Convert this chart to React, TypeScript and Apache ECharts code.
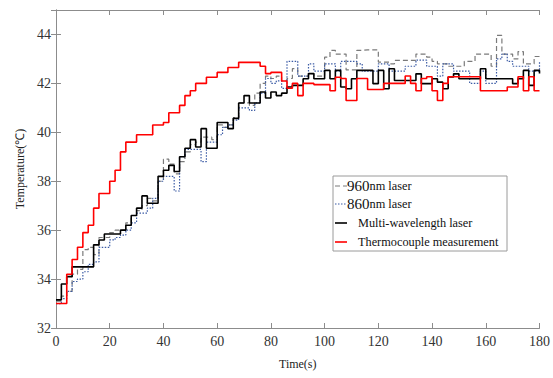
import React, { useEffect, useRef } from "react";
import * as echarts from "echarts";

const times = [
  0, 2, 4, 6, 8, 10, 12, 14, 16, 18,
  20, 22, 24, 26, 28, 30, 32, 34, 36, 38,
  40, 42, 44, 46, 48, 50, 52, 54, 56, 58,
  60, 62, 64, 66, 68, 70, 72, 74, 76, 78,
  80, 82, 84, 86, 88, 90, 92, 94, 96, 98,
  100, 102, 104, 106, 108, 110, 112, 114, 116, 118,
  120, 122, 124, 126, 128, 130, 132, 134, 136, 138,
  140, 142, 144, 146, 148, 150, 152, 154, 156, 158,
  160, 162, 164, 166, 168, 170, 172, 174, 176, 178,
  180,
];

const laser960 = [
  33.1, 33.3, 33.5, 34.2, 34.4, 35.2, 35.3, 35.0, 35.7, 35.7,
  35.9, 36.0, 36.0, 36.3, 36.6, 36.8, 37.0, 37.3, 37.2, 38.0,
  38.9, 38.7, 38.3, 38.8, 39.2, 39.5, 39.6, 39.8, 39.8, 39.7,
  40.3, 40.2, 40.3, 40.6, 41.2, 41.2, 41.1, 41.6, 42.0, 42.3,
  42.2, 42.3, 42.1, 42.2, 42.6, 42.3, 42.3, 42.4, 42.3, 42.3,
  43.07, 43.35, 43.2, 43.2, 42.55, 42.55, 43.35, 43.37, 43.37, 43.37,
  42.87, 42.87, 42.8, 42.94, 42.94, 42.94, 42.94, 43.2, 43.2, 43.07,
  42.9, 42.8, 42.8, 42.7, 42.7, 42.7, 42.9, 42.9, 43.2, 43.2,
  43.2, 42.7, 43.96, 43.2, 43.2, 43.0, 43.3, 42.8, 42.8, 43.1,
  43.1,
];

const laser860 = [
  33.0, 33.2, 33.5, 33.9, 34.0, 34.3, 34.6, 34.7, 35.3, 35.3,
  35.6, 35.7, 35.8, 36.0, 36.3, 36.7, 36.7, 36.9, 37.3, 38.0,
  38.2, 38.2, 37.6, 39.0, 39.3, 39.3, 39.3, 38.8, 39.6, 39.6,
  39.9, 40.2, 40.3, 40.5, 41.0, 41.0, 40.9, 41.2, 41.6, 42.2,
  42.0, 42.1, 41.8, 42.9, 42.9, 42.3, 42.3, 42.8, 42.5, 42.5,
  42.8, 42.8, 42.5, 42.9, 42.9, 42.9, 42.8, 42.5, 42.5, 42.5,
  42.8, 42.8, 42.5, 42.5, 42.5, 42.7, 42.7, 42.95, 42.95, 42.7,
  42.7, 42.3, 42.8, 42.8, 42.5, 42.5, 42.5, 42.0, 42.0, 42.5,
  42.0, 42.0, 43.0, 43.2, 42.9, 42.7, 42.7, 42.7, 42.5, 42.5,
  42.9,
];

const multiWave = [
  33.15, 33.8, 34.1, 34.5, 34.5, 34.5, 34.5, 35.4, 35.6, 35.84,
  35.84, 35.84, 36.0, 36.2, 36.6, 36.9, 37.4, 37.1, 37.1, 38.2,
  38.45, 38.65, 38.4, 39.0, 39.35, 39.7, 39.4, 40.15, 39.35, 39.35,
  40.4, 40.4, 40.15, 40.57, 41.2, 41.5, 41.2, 41.2, 41.65, 41.4,
  41.65, 41.5, 41.6, 41.85, 41.92, 41.92, 42.19, 42.4, 42.19, 42.19,
  42.53, 42.19, 42.53, 41.85, 41.78, 42.19, 42.53, 42.53, 42.53, 41.99,
  42.53, 41.78, 42.6, 42.12, 42.12, 42.12, 42.12, 42.39, 41.99, 41.99,
  42.19, 42.05, 41.78, 42.26, 42.39, 42.19, 42.19, 42.19, 42.19, 42.6,
  42.19, 42.19, 42.19, 42.19, 42.19, 41.99, 42.19, 42.53, 41.92, 42.53,
  42.4,
];

const thermo = [
  33.0, 33.0, 34.2, 34.8, 35.3, 35.9, 36.2, 36.9, 37.5, 37.5,
  38.0, 38.45, 39.2, 39.6, 39.6, 39.9, 39.9, 39.9, 40.3, 40.3,
  40.4, 40.8, 40.8, 41.1, 41.5, 41.7, 42.0, 42.0, 42.25, 42.25,
  42.45, 42.45, 42.65, 42.65, 42.86, 42.86, 42.86, 42.86, 42.7, 42.4,
  42.45, 42.45, 42.1, 41.8, 42.0, 41.5, 42.0, 42.0, 41.95, 41.95,
  41.95, 41.7, 42.25, 42.2, 41.3, 41.3, 42.2, 42.2, 41.75, 41.75,
  41.75, 42.0, 42.0, 42.0, 42.0, 42.3, 42.0, 41.7, 42.2, 42.27,
  41.7, 41.3, 42.0, 42.27, 42.27, 42.27, 42.27, 42.27, 42.27, 41.7,
  41.7, 41.7, 41.7, 41.7, 41.85, 41.85, 42.27, 41.7, 42.27, 41.7,
  41.7,
];

const seriesNames = ["960nm laser", "860nm laser", "Multi-wavelength laser", "Thermocouple measurement"];
const xTicks = { min: 0, max: 180, interval: 20 };
const yTicks = { min: 32, max: 45, interval: 2 };

const FONT = "'Liberation Serif', 'Times New Roman', serif";

const COLORS = ["#7a7a7a", "#3b5ba5", "#000000", "#ff0000"];
const WIDTHS = [1.2, 1.2, 1.6, 1.6];
const DASHES: any[] = [[5, 3], [1.5, 1.5], "solid", "solid"];

function pairs(vals: number[]) {
  return times.map((t, i) => [t, vals[i]]);
}

export default function App() {
  const ref = useRef<HTMLDivElement>(null);
  useEffect(() => {
    if (!ref.current) return;
    const chart = echarts.init(ref.current, undefined, { renderer: "svg" });
    const axisColor = "#8c8c8c";
    const labelStyle = { color: "#333", fontFamily: FONT, fontSize: 14 };
    const mkSeries = (i: number, vals: number[]) => ({
      name: seriesNames[i],
      type: "line",
      step: "end",
      symbol: "none",
      data: pairs(vals),
      lineStyle: { color: COLORS[i], width: WIDTHS[i], type: DASHES[i] },
      itemStyle: { color: COLORS[i] },
      xAxisIndex: 0,
      yAxisIndex: 0,
    });

    // legend drawn as graphic
    const boxX = 333, boxY = 176, boxW = 174, boxH = 75;
    const rowY = [186, 204, 223, 242];
    const legendChildren: any[] = [
      {
        type: "rect",
        shape: { x: boxX, y: boxY, width: boxW, height: boxH },
        style: { fill: "#fff", stroke: "#9a9a9a", lineWidth: 1 },
      },
    ];
    seriesNames.forEach((name, i) => {
      legendChildren.push({
        type: "line",
        shape: { x1: boxX + 2, y1: rowY[i], x2: boxX + 14, y2: rowY[i] },
        style: { stroke: COLORS[i], lineWidth: WIDTHS[i], lineDash: DASHES[i] === "solid" ? null : DASHES[i] },
      });
      const m = name.match(/^(\d+)(nm laser)$/);
      const text = m ? `{n|${m[1]}}{b|${m[2]}}` : `{b|${name}}`;
      legendChildren.push({
        type: "text",
        x: m ? boxX + 14 : boxX + 25,
        y: rowY[i],
        style: {
          text,
          verticalAlign: "middle",
          align: "left",
          rich: {
            n: { fontFamily: FONT, fontSize: 15, fill: "#111" },
            b: { fontFamily: FONT, fontSize: 12.3, fill: "#111" },
          },
        },
      });
    });

    chart.setOption({
      animation: false,
      backgroundColor: "#fff",
      grid: { left: 56, right: 11, top: 10, bottom: 50 },
      xAxis: [
        {
          type: "value",
          min: xTicks.min,
          max: xTicks.max,
          interval: xTicks.interval,
          name: "Time(s)",
          nameLocation: "middle",
          nameGap: 30,
          nameTextStyle: { color: "#222", fontFamily: FONT, fontSize: 12 },
          axisLine: { show: true, lineStyle: { color: axisColor, width: 1 } },
          axisTick: { show: true, inside: true, length: 5, lineStyle: { color: axisColor } },
          axisLabel: { ...labelStyle, margin: 6 },
          splitLine: { show: false },
        },
        {
          type: "value",
          position: "top",
          min: xTicks.min,
          max: xTicks.max,
          interval: xTicks.interval,
          axisLine: { show: true, lineStyle: { color: axisColor, width: 1 } },
          axisTick: { show: true, inside: true, length: 5, lineStyle: { color: axisColor } },
          axisLabel: { show: false },
          splitLine: { show: false },
        },
      ],
      yAxis: [
        {
          type: "value",
          min: yTicks.min,
          max: yTicks.max,
          interval: yTicks.interval,
          name: "Temperature(℃)",
          nameLocation: "middle",
          nameGap: 28,
          nameTextStyle: { color: "#222", fontFamily: FONT, fontSize: 12 },
          axisLine: { show: true, lineStyle: { color: axisColor, width: 1 } },
          axisTick: { show: true, inside: true, length: 5, lineStyle: { color: axisColor } },
          axisLabel: { ...labelStyle, margin: 5, showMaxLabel: false },
          splitLine: { show: false },
        },
        {
          type: "value",
          position: "right",
          min: yTicks.min,
          max: yTicks.max,
          interval: yTicks.interval,
          axisLine: { show: true, lineStyle: { color: axisColor, width: 1 } },
          axisTick: { show: true, inside: true, length: 5, lineStyle: { color: axisColor } },
          axisLabel: { show: false },
          splitLine: { show: false },
        },
      ],
      series: [
        mkSeries(0, laser960),
        mkSeries(1, laser860),
        mkSeries(2, multiWave),
        mkSeries(3, thermo),
      ],
      graphic: [{ type: "group", z: 100, children: legendChildren }],
    });
    return () => chart.dispose();
  }, []);
  return (
    <div
      ref={ref}
      style={{ position: "fixed", left: 0, top: 0, width: 553, height: 378, background: "#fff" }}
    />
  );
}
